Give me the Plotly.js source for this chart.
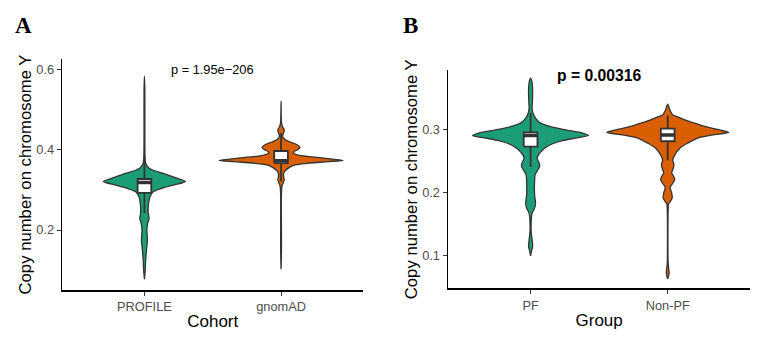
<!DOCTYPE html>
<html>
<head>
<meta charset="utf-8">
<script src="https://cdn.plot.ly/plotly-3.0.1.min.js"></script>
<style>
  html, body { margin: 0; padding: 0; background: #fff; }
  #chart { width: 775px; height: 345px; }
</style>
</head>
<body>
<div id="chart"></div>
<script>
// ---- Panel A: cohorts ----
const cohortLabels = ["PROFILE", "gnomAD"];
// density outline of each violin: copy-number level and half width (category units)
const profileLevels = [0.585, 0.55, 0.45, 0.39, 0.367, 0.354, 0.342, 0.329, 0.321, 0.3125, 0.304, 0.296, 0.283, 0.27, 0.258, 0.242, 0.229, 0.217, 0.2, 0.175, 0.15, 0.125, 0.1, 0.077];
const profileHalfWidth = [0, 0.003, 0.003, 0.004, 0.009, 0.037, 0.132, 0.241, 0.300, 0.212, 0.124, 0.066, 0.040, 0.032, 0.028, 0.028, 0.034, 0.024, 0.018, 0.022, 0.015, 0.009, 0.006, 0];
const gnomadLevels = [0.522, 0.47, 0.458, 0.45, 0.442, 0.434, 0.426, 0.42, 0.413, 0.407, 0.401, 0.396, 0.392, 0.386, 0.381, 0.377, 0.374, 0.371, 0.367, 0.362, 0.356, 0.348, 0.34, 0.332, 0.325, 0.318, 0.31, 0.29, 0.15, 0.102];
const gnomadHalfWidth = [0, 0.003, 0.011, 0.024, 0.018, 0.011, 0.029, 0.066, 0.117, 0.139, 0.124, 0.095, 0.091, 0.146, 0.278, 0.380, 0.454, 0.344, 0.197, 0.095, 0.059, 0.029, 0.018, 0.020, 0.023, 0.016, 0.007, 0.003, 0.003, 0];
// box summaries per cohort
const cohortQ1 = [0.293, 0.367];
const cohortMedian = [0.319, 0.373];
const cohortQ3 = [0.3275, 0.3975];
const cohortLowerWhisker = [0.242, 0.322];
const cohortUpperWhisker = [0.378, 0.442];
const cohortPText = "p = 1.95e\u2212206";
const cohortPLevel = 0.6;

// ---- Panel B: groups ----
const groupLabels = ["PF", "Non-PF"];
const pfLevels = [0.382, 0.375, 0.36, 0.345, 0.334, 0.324, 0.313, 0.305, 0.300, 0.295, 0.291, 0.287, 0.283, 0.278, 0.271, 0.263, 0.255, 0.248, 0.242, 0.236, 0.229, 0.218, 0.197, 0.184, 0.176, 0.168, 0.14, 0.125, 0.115, 0.108, 0.1];
const pfHalfWidth = [0, 0.011, 0.015, 0.013, 0.011, 0.022, 0.058, 0.146, 0.255, 0.379, 0.423, 0.328, 0.233, 0.160, 0.102, 0.066, 0.047, 0.062, 0.066, 0.051, 0.033, 0.029, 0.029, 0.036, 0.029, 0.011, 0.004, 0.011, 0.015, 0.007, 0];
const nonPfLevels = [0.341, 0.332, 0.324, 0.319, 0.316, 0.311, 0.305, 0.300, 0.296, 0.292, 0.287, 0.279, 0.271, 0.260, 0.252, 0.247, 0.242, 0.236, 0.232, 0.226, 0.221, 0.215, 0.209, 0.200, 0.192, 0.186, 0.183, 0.170, 0.090, 0.080, 0.073, 0.067, 0.064];
const nonPfHalfWidth = [0, 0.015, 0.036, 0.091, 0.124, 0.190, 0.277, 0.379, 0.445, 0.328, 0.219, 0.146, 0.088, 0.051, 0.036, 0.044, 0.044, 0.036, 0.029, 0.044, 0.051, 0.036, 0.018, 0.029, 0.033, 0.018, 0.007, 0.003, 0.003, 0.007, 0.010, 0.005, 0];
const groupQ1 = [0.2735, 0.282];
const groupMedian = [0.291, 0.292];
const groupQ3 = [0.296, 0.302];
const groupLowerWhisker = [0.241, 0.252];
const groupUpperWhisker = [0.327, 0.323];
const groupPText = "<b>p = 0.00316</b>";
const groupPLevel = 0.3857;

const fillColors = ["#1B9E77", "#D95F02"];
const outline = "#333333";
const boxWidth = 0.1;
const FONT = "Liberation Sans, Arial, sans-serif";

function violinTrace(pos, levels, half, color, xa, ya) {
  const xs = [], ys = [];
  for (let i = 0; i < levels.length; i++) { xs.push(pos + half[i]); ys.push(levels[i]); }
  for (let i = levels.length - 1; i >= 0; i--) { xs.push(pos - half[i]); ys.push(levels[i]); }
  return {
    type: "scatter", mode: "lines", x: xs, y: ys, xaxis: xa, yaxis: ya,
    fill: "toself", fillcolor: color,
    line: { color: outline, width: 1.3, shape: "spline", smoothing: 0.7 },
    hoverinfo: "skip", showlegend: false
  };
}

// box-and-whisker drawn on top of the violin: whiskers, white box, thick median
function boxTraces(pos, q1, med, q3, lo, hi, xa, ya) {
  const l = pos - boxWidth / 2, r = pos + boxWidth / 2;
  const common = { type: "scatter", mode: "lines", xaxis: xa, yaxis: ya, hoverinfo: "skip", showlegend: false };
  return [
    Object.assign({}, common, { x: [pos, pos, null, pos, pos], y: [hi, q3, null, q1, lo],
      line: { color: outline, width: 1.8 } }),
    Object.assign({}, common, { x: [l, r, r, l, l], y: [q1, q1, q3, q3, q1],
      fill: "toself", fillcolor: "#ffffff", line: { color: outline, width: 1.8 } }),
    Object.assign({}, common, { x: [l, r], y: [med, med],
      line: { color: outline, width: 3.5 } })
  ];
}

const traces = [
  violinTrace(0, profileLevels, profileHalfWidth, fillColors[0], "x", "y"),
  violinTrace(1, gnomadLevels, gnomadHalfWidth, fillColors[1], "x", "y"),
  violinTrace(0, pfLevels, pfHalfWidth, fillColors[0], "x2", "y2"),
  violinTrace(1, nonPfLevels, nonPfHalfWidth, fillColors[1], "x2", "y2")
];
for (let i = 0; i < 2; i++) {
  traces.push(...boxTraces(i, cohortQ1[i], cohortMedian[i], cohortQ3[i], cohortLowerWhisker[i], cohortUpperWhisker[i], "x", "y"));
  traces.push(...boxTraces(i, groupQ1[i], groupMedian[i], groupQ3[i], groupLowerWhisker[i], groupUpperWhisker[i], "x2", "y2"));
}

function xAxis(domain, labels, title, anchor) {
  return {
    domain: domain, anchor: anchor, range: [-0.6, 1.6],
    tickvals: [0, 1], ticktext: labels,
    showline: true, linecolor: "#000", linewidth: 1.8, mirror: false,
    ticks: "outside", ticklen: 4, tickwidth: 1, tickcolor: "#333",
    tickfont: { family: FONT, size: 12.8, color: "#4d4d4d" },
    showgrid: false, zeroline: false, fixedrange: true,
    title: { text: title, font: { family: FONT, size: 17, color: "#000" }, standoff: 2 }
  };
}
function yAxis(domain, range, tickvals, anchor) {
  return {
    domain: domain, anchor: anchor, range: range, tickvals: tickvals, tickformat: ".1f",
    showline: true, linecolor: "#000", linewidth: 1.8,
    ticks: "outside", ticklen: 4, tickwidth: 1, tickcolor: "#333",
    tickfont: { family: FONT, size: 12.8, color: "#4d4d4d" },
    showgrid: false, zeroline: false, fixedrange: true,
    title: { text: "Copy number on chromosome Y", font: { family: FONT, size: 16.7, color: "#000" }, standoff: 0 }
  };
}

const layout = {
  width: 775, height: 345,
  margin: { l: 0, r: 0, t: 0, b: 0 },
  paper_bgcolor: "#fff", plot_bgcolor: "#fff",
  showlegend: false,
  xaxis: xAxis([0.0806, 0.4684], cohortLabels, "Cohort", "y"),
  yaxis: yAxis([0.1594, 0.829], [0.05, 0.6275], [0.2, 0.4, 0.6], "x"),
  xaxis2: xAxis([0.5785, 0.9677], groupLabels, "Group", "y2"),
  yaxis2: yAxis([0.1638, 0.7971], [0.0484, 0.395], [0.1, 0.2, 0.3], "x2"),
  annotations: [
    { xref: "x", yref: "y", x: 0.5, y: cohortPLevel, text: cohortPText, showarrow: false,
      font: { family: FONT, size: 12.8, color: "#000" }, xanchor: "center", yanchor: "middle" },
    { xref: "x2", yref: "y2", x: 0.5, y: groupPLevel, text: groupPText, showarrow: false,
      font: { family: FONT, size: 15.7, color: "#000" }, xanchor: "center", yanchor: "middle" },
    { xref: "paper", yref: "paper", x: 13 / 775, y: (345 - 25.5) / 345, text: "<b>A</b>", showarrow: false,
      font: { family: "Liberation Serif, Times New Roman, serif", size: 23, color: "#000" }, xanchor: "left", yanchor: "middle" },
    { xref: "paper", yref: "paper", x: 401 / 775, y: (345 - 25.5) / 345, text: "<b>B</b>", showarrow: false,
      font: { family: "Liberation Serif, Times New Roman, serif", size: 23, color: "#000" }, xanchor: "left", yanchor: "middle" }
  ]
};

Plotly.newPlot("chart", traces, layout, { staticPlot: true, displayModeBar: false });
</script>
</body>
</html>
